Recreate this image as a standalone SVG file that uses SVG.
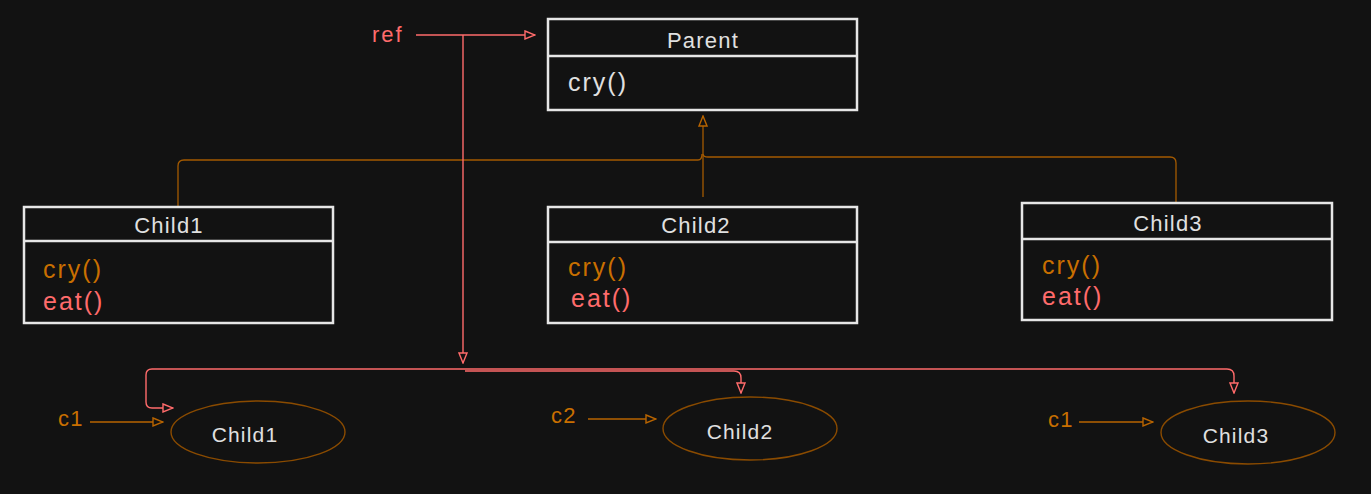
<svg xmlns="http://www.w3.org/2000/svg" width="1371" height="494" viewBox="0 0 1371 494">
<defs>
<style>
.box{fill:#121212;stroke:#e6e6e6;stroke-width:2.5}
.div{stroke:#e6e6e6;stroke-width:2.5}
.t{font-family:"Liberation Sans",Arial,sans-serif;fill:#e0e0e0;font-size:22px;letter-spacing:1.2px}
.m{font-size:25px;letter-spacing:2px}
.o{fill:#c96f00}
.r{fill:#ff6b6b}
.inh{fill:none;stroke:#a45a00;stroke-width:1.3}
.ref{fill:none;stroke:#ff6b6b;stroke-width:1.4}
.oarr{fill:none;stroke:#b86400;stroke-width:1.3}
.ell{fill:none;stroke:#8a4b00;stroke-width:1.4}
</style>
<marker id="ar" viewBox="0 0 12 10" refX="11" refY="5" markerWidth="12" markerHeight="10" markerUnits="userSpaceOnUse" orient="auto">
<path d="M1,1 L11,5 L1,9 Z" fill="#121212" stroke="#ff6b6b" stroke-width="1.4"/>
</marker>
<marker id="ao" viewBox="0 0 12 10" refX="11" refY="5" markerWidth="12" markerHeight="10" markerUnits="userSpaceOnUse" orient="auto">
<path d="M1,1 L11,5 L1,9 Z" fill="#121212" stroke="#b86400" stroke-width="1.4"/>
</marker>
</defs>
<rect width="1371" height="494" fill="#121212"/>

<g id="connectors">
<path class="inh" d="M178,207 V166 Q178,160 184,160 H698 Q702,160 702,154"/>
<path class="inh" d="M1176,203 V163 Q1176,157 1170,157 H708 Q703,157 703,154"/>
<path class="inh" d="M703,197 V116" marker-end="url(#ao)"/>
<path class="ref" d="M416,35 H535" marker-end="url(#ar)"/>
<path class="ref" d="M463,35 V363" marker-end="url(#ar)"/>
<path class="ref" d="M1227,369 Q1234,369 1234,376 V393" marker-end="url(#ar)"/>
<path class="ref" d="M1227,369 H152 Q146,369 146,375 V402 Q146,408 152,408 H173" marker-end="url(#ar)"/>
<path class="ref" d="M465,371 H734 Q741,371 741,378 V393" marker-end="url(#ar)"/>
<path class="oarr" d="M90,422 H163" marker-end="url(#ao)"/>
<path class="oarr" d="M588,419 H656" marker-end="url(#ao)"/>
<path class="oarr" d="M1079,422 H1153" marker-end="url(#ao)"/>
</g>

<g id="ref-label"><text class="t r" x="372" y="42" style="font-size:22px;letter-spacing:2px">ref</text></g>

<g id="parent">
<rect class="box" x="548" y="19" width="309" height="91"/>
<line class="div" x1="548" y1="56" x2="857" y2="56"/>
<text class="t" x="703" y="48" text-anchor="middle">Parent</text>
<text class="t m" x="568" y="91">cry()</text>
</g>

<g id="child1">
<rect class="box" x="24" y="207" width="309" height="116"/>
<line class="div" x1="24" y1="241" x2="333" y2="241"/>
<text class="t" x="169" y="233" text-anchor="middle">Child1</text>
<text class="t m o" x="43" y="278">cry()</text>
<text class="t m r" x="43" y="310">eat()</text>
</g>

<g id="child2">
<rect class="box" x="548" y="207" width="309" height="116"/>
<line class="div" x1="548" y1="242" x2="857" y2="242"/>
<text class="t" x="696" y="233" text-anchor="middle">Child2</text>
<text class="t m o" x="568" y="276">cry()</text>
<text class="t m r" x="571" y="307">eat()</text>
</g>

<g id="child3">
<rect class="box" x="1022" y="203" width="310" height="117"/>
<line class="div" x1="1022" y1="239" x2="1332" y2="239"/>
<text class="t" x="1168" y="231" text-anchor="middle">Child3</text>
<text class="t m o" x="1042" y="274">cry()</text>
<text class="t m r" x="1042" y="305">eat()</text>
</g>

<g id="obj1">
<ellipse class="ell" cx="258" cy="432" rx="87" ry="31"/>
<text class="t" x="245" y="442" text-anchor="middle" style="font-size:21px">Child1</text>
</g>
<g id="obj2">
<ellipse class="ell" cx="750" cy="428.5" rx="87" ry="31.5"/>
<text class="t" x="740" y="439" text-anchor="middle" style="font-size:21px">Child2</text>
</g>
<g id="obj3">
<ellipse class="ell" cx="1248" cy="432.5" rx="87" ry="31.5"/>
<text class="t" x="1236" y="443" text-anchor="middle" style="font-size:21px">Child3</text>
</g>

<g id="lbl-c1"><text class="t o" x="58" y="426" style="font-size:22px">c1</text></g>
<g id="lbl-c2"><text class="t o" x="551" y="423" style="font-size:22px">c2</text></g>
<g id="lbl-c1b"><text class="t o" x="1048" y="427" style="font-size:22px">c1</text></g>
</svg>
